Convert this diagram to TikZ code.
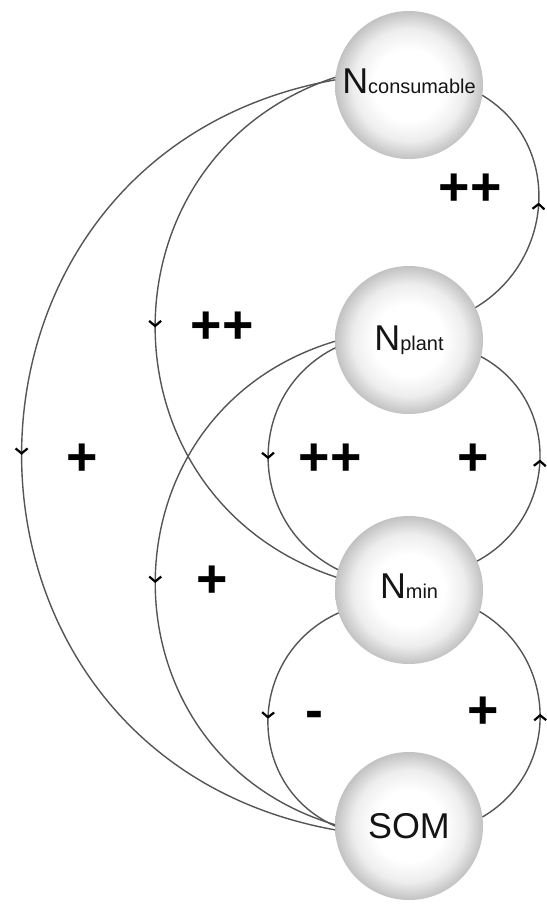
\documentclass[tikz,border=0pt]{standalone}
\usepackage{fontspec}
\setmainfont{Liberation Sans}
\usetikzlibrary{arrows.meta,decorations.markings}

\definecolor{linegray}{RGB}{85,85,85}
\definecolor{textgray}{RGB}{20,20,20}
\pgfdeclareradialshading{sphere}{\pgfpoint{0bp}{0bp}}{color(0bp)=(white); color(12bp)=(white); color(19bp)=(black!7); color(25bp)=(black!24); color(50bp)=(black!24)}

\tikzset{
  ball/.style={circle, minimum size=148bp, inner sep=0pt, outer sep=0pt, shade, shading=sphere, text=textgray, font=\fontsize{36}{36}\selectfont},
  link/.style={draw=linegray, line width=1.4bp, postaction={decorate},
    decoration={markings, mark=at position 0.5 with {\arrow[black]{Straight Barb[length=5bp,width=12bp,line width=2.2bp]}}}},
  sign/.style={inner sep=0pt, text=black, font=\bfseries\fontsize{54}{54}\selectfont}
}
\newcommand{\subtext}[1]{{\fontsize{20}{20}\selectfont #1}}

\begin{document}
\begin{tikzpicture}[x=1bp,y=1bp]
\path[use as bounding box, fill=white] (0,0) rectangle (547,-906);

% the four pools
\node[ball] (cons)  at (409,-85)  {\raisebox{8bp}{N\subtext{consumable}}};
\node[ball] (plant) at (409,-340) {\raisebox{4bp}{N\subtext{plant}}};
\node[ball] (min)   at (409,-590) {\raisebox{8bp}{N\subtext{min}}};
\node[ball] (som)   at (409,-826) {\raisebox{-8bp}{SOM}};

% left side, going down
\draw[link] (cons.176) .. controls +(190.2:424.8) and +(169.8:424.8) .. (som.183);
\draw[link] (cons.174) .. controls +(198.3:253.7) and +(161.7:253.7) .. (min.170);
\draw[link] (plant.181) .. controls +(196.7:250.3) and +(163.3:250.3) .. (som.179);
\draw[link] (plant.186) .. controls +(206.6:102.2) and +(153.4:102.2) .. (min.164);
\draw[link] (min.198) .. controls +(204.2:100.7) and +(155.8:100.7) .. (som.180);

% right side, going up
\draw[link] (plant.26) .. controls +(31:93.2) and +(-31:93.2) .. (cons.-8);
\draw[link] (min.23) .. controls +(28.3:92.2) and +(-28.3:92.2) .. (plant.-13);
\draw[link] (som.7) .. controls +(30.4:91.2) and +(-30.4:91.2) .. (min.-17);

% signs
\node[sign] (pp1) at (470,-190) {++};
\node[sign] (pp2) at (222,-328) {++};
\node[sign] (p1)  at (82,-460)  {+};
\node[sign] (pp3) at (330,-460) {++};
\node[sign] (p2)  at (473,-460) {+};
\node[sign] (p3)  at (212,-582) {+};
\node[sign] (m1)  at (314,-720) {-};
\node[sign] (p4)  at (483,-713) {+};

\end{tikzpicture}
\end{document}
